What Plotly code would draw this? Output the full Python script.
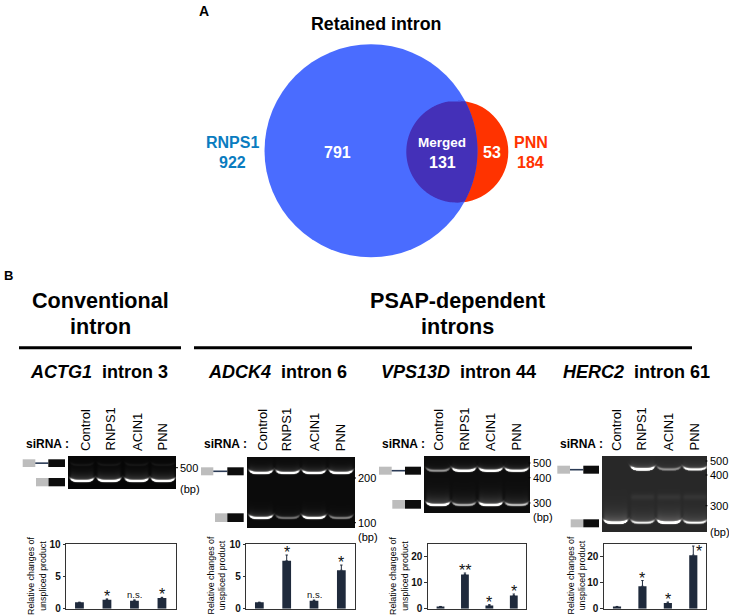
import numpy as np
import plotly.graph_objects as go

FONT = "Liberation Sans"
W, H = 729, 616

lanes = ["Control", "RNPS1", "ACIN1", "PNN"]

# Venn
venn_title = "Retained intron"
venn_left = ("RNPS1", 922)
venn_right = ("PNN", 184)
only_left, merged, only_right = 791, 131, 53

# Bar panels
vals_actg1 = [1.0, 1.4, 1.25, 1.65]
errs_actg1 = [0.0, 0.12, 0.12, 0.12]
sig_actg1 = ["", "*", "n.s.", "*"]
vals_adck4 = [1.0, 7.4, 1.25, 5.95]
errs_adck4 = [0.0, 0.9, 0.1, 0.8]
sig_adck4 = ["", "*", "n.s.", "*"]
vals_vps13d = [0.9, 13.2, 1.3, 5.1]
errs_vps13d = [0.0, 0.6, 0.3, 0.6]
sig_vps13d = ["", "**", "*", "*"]
vals_herc2 = [0.9, 8.7, 2.2, 20.7]
errs_herc2 = [0.0, 2.2, 0.4, 3.5]
sig_herc2 = ["", "*", "*", "*"]

# Gel band intensities per lane
gel1_upper = [0.05, 0.05, 0.05, 0.05]
gel1_lower = [1.0, 1.0, 1.0, 1.0]
gel2_upper = [1.0, 0.9, 0.95, 1.0]
gel2_lower = [0.95, 0.35, 0.95, 0.4]
gel3_upper = [0.45, 1.0, 0.95, 0.9]
gel3_lower = [1.0, 0.55, 1.0, 0.6]
gel4_upper = [0.0, 1.0, 0.35, 0.7]
gel4_lower = [1.0, 0.6, 1.0, 0.65]

panels = [
    dict(gene="ACTG1", intron="intron 3", head=99, vals=vals_actg1, errs=errs_actg1, sig=sig_actg1,
         frame=(65.7, 175.7), ymax=10, yt=[0, 5, 10], ticklen=2, ytitle=37,
         gel=(68, 175.7, 456, 488.7), gx=[82, 109, 136.7, 163], upper=gel1_upper, lower=gel1_lower,
         uy=465, ly=481, bg=0.03, mid=0, glow_u=3, glow=6, lab=[85, 110, 137, 162], si=47,
         mx=178.5, marks=[("500", 467.7), ("(bp)", 488.5)],
         s_up=(22.7, 35.3, 48.3, 65, 459.3, 467), s_lo=(36, 48.5, 65, 478, 486.3)),
    dict(gene="ADCK4", intron="intron 6", head=277, vals=vals_adck4, errs=errs_adck4, sig=sig_adck4,
         frame=(245.7, 355), ymax=10, yt=[0, 5, 10], ticklen=2, ytitle=216.5,
         gel=(247.3, 355, 456.7, 528), gx=[261, 287.7, 314, 341], upper=gel2_upper, lower=gel2_lower,
         uy=473, ly=518, bg=0.06, mid=0, glow_u=4, glow=4, lab=[261.7, 286.7, 314, 340.7], si=225,
         mx=356.5, marks=[("200", 478), ("100", 522.7), ("(bp)", 536.7)],
         s_up=(201, 213.3, 227.3, 243.7, 467.3, 475.3), s_lo=(215, 227.3, 243.7, 513.3, 522)),
    dict(gene="VPS13D", intron="intron 44", head=458, vals=vals_vps13d, errs=errs_vps13d, sig=sig_vps13d,
         frame=(428.3, 526), ymax=25, yt=[0, 10, 20], ticklen=3, ytitle=399,
         gel=(424, 530, 456, 512.7), gx=[438, 464, 490.7, 516.7], upper=gel3_upper, lower=gel3_lower,
         uy=470.7, ly=505, bg=0.07, mid=0, glow_u=3, glow=7, lab=[437.7, 464.3, 490, 516], si=403,
         mx=531, marks=[("500", 463), ("400", 477.7), ("300", 503), ("(bp)", 516.7)],
         s_up=(379, 391.7, 405, 421, 466.7, 474.7), s_lo=(392.3, 405, 421, 500, 508.7)),
    dict(gene="HERC2", intron="intron 61", head=636, vals=vals_herc2, errs=errs_herc2, sig=sig_herc2,
         frame=(604.3, 706), ymax=25, yt=[0, 10, 20], ticklen=3, ytitle=576.5,
         gel=(602.3, 707.3, 456, 532), gx=[615.7, 642.7, 669, 695], upper=gel4_upper, lower=gel4_lower,
         uy=469.3, ly=522.7, bg=0.19, mid=0.05, glow_u=3, glow=7, lab=[616, 641, 668, 694], si=581,
         mx=708, marks=[("500", 461), ("400", 475), ("300", 505.7), ("(bp)", 531.7)],
         s_up=(557.3, 570, 583.3, 599, 465.7, 473.7), s_lo=(570.7, 583.3, 599, 519.3, 527.3)),
]

BIG = (371, 150.8, 106.5)
SMALL = (457.3, 151.7, 51)
BLUE, RED, OVERLAP = "#4A6CFF", "#FF3300", "#4430B8"
BAR = "#1F2A3C"
FRAME = "#333333"

fig = go.Figure()
shapes, ann = [], []


def text(x, y, s, size, color="#000000", bold=False, angle=0, xanchor="center", yanchor="middle", **kw):
    s = f"<b>{s}</b>" if bold else s
    ann.append(dict(x=x, y=y, xref="x", yref="y", text=s, showarrow=False, textangle=angle,
                    xanchor=xanchor, yanchor=yanchor, borderpad=0,
                    font=dict(family=FONT, size=size, color=color), **kw))


def rect(x0, x1, y0, y1, color):
    shapes.append(dict(type="rect", xref="x", yref="y", x0=x0, x1=x1, y0=y0, y1=y1,
                       fillcolor=color, line=dict(width=0), layer="above"))


def line(x0, x1, y0, y1, color="#000000", width=1):
    shapes.append(dict(type="line", xref="x", yref="y", x0=x0, x1=x1, y0=y0, y1=y1,
                       line=dict(color=color, width=width), layer="above"))


def circle(c, color):
    cx, cy, r = c
    shapes.append(dict(type="circle", xref="x", yref="y", x0=cx - r, x1=cx + r, y0=cy - r, y1=cy + r,
                       fillcolor=color, line=dict(width=0), layer="below"))


# Venn circles
circle(SMALL, RED)
circle(BIG, BLUE)
t = np.linspace(0, 2 * np.pi, 721)
sx = SMALL[0] + SMALL[2] * np.cos(t)
sy = SMALL[1] + SMALL[2] * np.sin(t)
bx = BIG[0] + BIG[2] * np.cos(t)
by = BIG[1] + BIG[2] * np.sin(t)
in_big = (sx - BIG[0]) ** 2 + (sy - BIG[1]) ** 2 <= BIG[2] ** 2
in_small = (bx - SMALL[0]) ** 2 + (by - SMALL[1]) ** 2 <= SMALL[2] ** 2
p1 = sorted([(a, b) for a, b, k in zip(sx, sy, in_big) if k], key=lambda p: p[1])
p2 = sorted([(a, b) for a, b, k in zip(bx, by, in_small) if k], key=lambda p: -p[1])
pts = p2 + p1
path = "M" + "L".join(f"{a:.2f},{b:.2f}" for a, b in pts) + "Z"
shapes.append(dict(type="path", xref="x", yref="y", path=path, fillcolor=OVERLAP, line=dict(width=0), layer="below"))

text(204, 11, "A", 14, bold=True)
text(8, 275.3, "B", 13, bold=True)
text(375.7, 23.5, venn_title, 17.8, bold=True)
text(232.7, 142, venn_left[0], 16, "#0A7CC0", True)
text(232.7, 162, str(venn_left[1]), 16, "#0A7CC0", True)
text(530.7, 142, venn_right[0], 16, RED, True)
text(530.7, 162, str(venn_right[1]), 16, RED, True)
text(337, 152, str(only_left), 16, "#FFFFFF", True)
text(442, 142, "Merged", 13.5, "#FFFFFF", True)
text(442, 162, str(merged), 16, "#FFFFFF", True)
text(491.7, 152, str(only_right), 16, "#FFFFFF", True)

# Section headers
text(100.5, 300, "Conventional", 21.6, bold=True)
text(100.5, 326, "intron", 21.6, bold=True)
text(457, 300, "PSAP-dependent", 21.6, bold=True)
text(457, 326, "introns", 21.6, bold=True)
line(19, 181, 347.8, 347.8, width=3)
line(194, 692, 347.8, 347.8, width=3)


def gel_image(p):
    x0, x1, y0, y1 = p["gel"]
    xs = np.arange(round(x0), round(x1)) + 0.5
    ys = np.arange(round(y0), round(y1)) + 0.5
    X, Y = np.meshgrid(xs, ys)
    Z = np.full(X.shape, p["bg"], dtype=float)
    hw = 11.5
    for c, u, l in zip(p["gx"], p["upper"], p["lower"]):
        prof = 0.5 * (np.tanh((X - c + hw) / 1.5) - np.tanh((X - c - hw) / 1.5))
        curve = 2.2 * ((X - c) / hw) ** 4
        for yb, amp, g in ((p["uy"], u, p["glow_u"]), (p["ly"], l, p["glow"])):
            d = Y - (yb - curve)
            core = np.exp(-(d / 1.3) ** 2)
            glow = 0.3 * np.exp(np.minimum(d, 0) / g) * (d < 1.5)
            Z += amp * prof * (core + glow)
        if p["mid"] and u > 0:
            Z += p["mid"] * prof * np.exp(-((Y - 497) / 3.0) ** 2)
    return xs, ys, np.clip(Z, 0, 1)


for i, p in enumerate(panels):
    text(p["head"], 372, f"<b><i>{p['gene']}</i>&nbsp;&nbsp;{p['intron']}</b>", 18)
    text(p["si"], 444, "siRNA :", 12, bold=True)
    for name, lx in zip(lanes, p["lab"]):
        text(lx, 452, name, 13, angle=-90, yanchor="bottom")
    xs, ys, Z = gel_image(p)
    fig.add_trace(go.Heatmap(x=xs, y=ys, z=Z, colorscale="gray", zmin=0, zmax=1, showscale=False,
                             hoverinfo="skip", xaxis="x", yaxis="y"))
    for m, my in p["marks"]:
        if m != "(bp)":
            line(p["mx"] - 2.5, p["mx"] - 0.5, my, my, width=1)
        text(p["mx"] + 0.5, my, m, 11, xanchor="left")
    a, b, c, d, e, f = p["s_up"]
    rect(a, b, e, f, "#BDBDBD")
    line(b, c, (e + f) / 2, (e + f) / 2, color="#2A3A55", width=1.6)
    rect(c, d, e, f, "#0D0D0D")
    a, b, c, e, f = p["s_lo"]
    rect(a, b, e, f, "#BDBDBD")
    rect(b, c, e, f, "#0D0D0D")
    text(p["ytitle"], 576, "Relative changes of<br>unspliced product", 8.9, angle=-90)

    n = i + 2
    fig.add_trace(go.Bar(x=lanes, y=p["vals"], marker=dict(color=BAR, line=dict(width=0)),
                         error_y=dict(type="data", array=p["errs"], symmetric=False,
                                      arrayminus=[0, 0, 0, 0], color=BAR, thickness=1, width=1.2),
                         xaxis=f"x{n}", yaxis=f"y{n}", showlegend=False, hoverinfo="skip"))
    fx0, fx1 = p["frame"]
    fy0, fy1 = 544, 608.8
    common = dict(showline=True, linecolor=FRAME, linewidth=1, mirror=True, showgrid=False, zeroline=False)
    fig.layout[f"xaxis{n}"] = dict(domain=[fx0 / W, fx1 / W], anchor=f"y{n}", type="category",
                                   categoryarray=lanes, range=[-0.5, 3.5], showticklabels=False,
                                   ticks="", **common)
    fig.layout[f"yaxis{n}"] = dict(domain=[1 - fy1 / H, 1 - fy0 / H], anchor=f"x{n}", range=[0, p["ymax"]],
                                   tickvals=p["yt"], ticks="outside", ticklen=p["ticklen"], tickcolor=FRAME,
                                   tickfont=dict(family=FONT, size=10, color="#111111", weight="bold"),
                                   **common)
    for k, s in enumerate(p["sig"]):
        if s:
            star = s != "n.s."
            beside = p["gene"] == "HERC2" and k == 3
            ann.append(dict(x=lanes[k], y=p["vals"][k] + p["errs"][k], xref=f"x{n}", yref=f"y{n}",
                            text=s, showarrow=False, xanchor="center", yanchor="bottom",
                            xshift=6 if beside else 0,
                            yshift=-15 if beside else (-7 if star else -1), borderpad=0, align="center",
                            font=dict(family=FONT, size=16 if star else 9.5, color="#111111")))

fig.update_layout(
    width=W, height=H, autosize=False, margin=dict(l=0, r=0, t=0, b=0, pad=0, autoexpand=False),
    paper_bgcolor="#FFFFFF", plot_bgcolor="rgba(0,0,0,0)", showlegend=False, bargap=0.68,
    xaxis=dict(domain=[0, 1], range=[0, W], visible=False, fixedrange=True),
    yaxis=dict(domain=[0, 1], range=[H, 0], visible=False, fixedrange=True),
    shapes=shapes, annotations=ann, font=dict(family=FONT),
)

fig.write_html("out.html", config=dict(displayModeBar=False),
               post_script="document.body.style.margin='0';document.body.style.overflow='hidden';")
